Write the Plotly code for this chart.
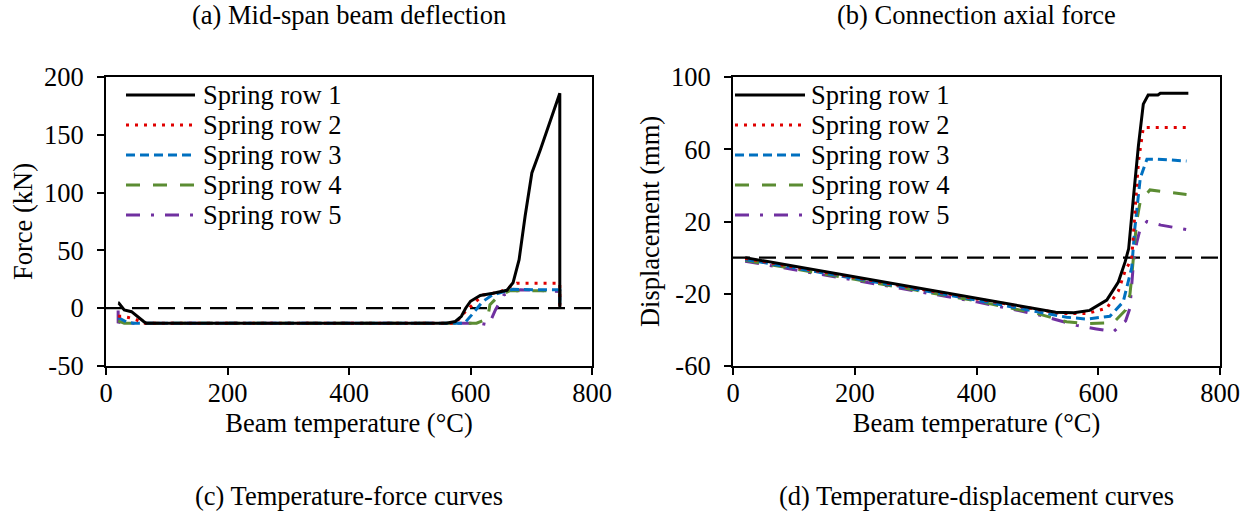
import plotly.graph_objects as go

W, H = 1254, 522

# ---------------- data: (c) temperature-force curves ----------------
force_T1 = [20, 21, 30, 42, 62, 66, 560, 575, 585, 592, 600, 616, 637, 660, 670, 680, 690, 701, 715, 747, 747]
force_F1 = [4.5, 4.5, -1.5, -3, -11.5, -13, -13, -11.5, -7, 0, 6, 11, 13, 15.5, 22, 42, 80, 117, 137, 186, 0]

force_T2 = [20, 26, 37, 50, 60, 575, 594, 610, 621, 648, 676, 747, 747]
force_F2 = [-7, -7, -8, -10, -13, -13, -1.5, 6, 11.5, 14, 21.5, 21.5, 0]

force_T3 = [20, 34, 45, 590, 602, 620, 636, 670, 703, 747, 747]
force_F3 = [-8, -12, -13, -13, -5.8, 5.7, 11.5, 16.4, 16, 16, -1]

force_T4 = [20, 30, 610, 628, 632, 645, 664, 747, 747]
force_F4 = [-11, -13, -13, -9, 3, 10, 15, 15, 0]

force_T5 = [20, 20, 30, 615, 630, 641, 655, 682, 747, 747]
force_F5 = [-2, -12, -13, -13, -14.5, -1.5, 11.5, 16, 14.5, 0]

# ---------------- data: (d) temperature-displacement curves ----------------
disp_T1 = [20, 100, 200, 300, 400, 500, 530, 560, 586, 614, 633, 644, 650, 658, 666, 674, 682, 698, 702, 748]
disp_D1 = [0, -4.8, -10.8, -16.8, -22.8, -28.8, -30.2, -30.5, -29.2, -23.5, -13.5, -2.5, 5, 34, 62, 85, 90, 90, 91, 91]

disp_T2 = [20, 100, 200, 300, 400, 500, 540, 581, 614, 633, 644, 655, 660, 666, 674, 690, 745]
disp_D2 = [-0.5, -5, -11, -17, -23, -29, -31, -31, -28, -18.5, -7.5, -0.5, 25, 53, 72, 72, 72]

disp_T3 = [20, 100, 200, 300, 400, 500, 548, 581, 619, 641, 652, 655, 660, 669, 680, 697, 745]
disp_D3 = [-1, -5.5, -11.5, -17.5, -23.5, -30, -33, -34, -32.5, -24.5, -9.5, -5.5, 16, 44, 54.5, 54.5, 53.5]

disp_T4 = [20, 100, 200, 300, 400, 500, 548, 581, 625, 645, 652, 655, 663, 669, 685, 745]
disp_D4 = [-1.5, -6, -12, -18, -24, -31, -35.5, -36.5, -36, -29, -20.5, -10.5, 20, 31, 37.5, 35]

disp_T5 = [20, 100, 200, 300, 400, 500, 564, 597, 625, 645, 652, 658, 663, 669, 680, 703, 745]
disp_D5 = [-2, -6.5, -12.5, -18.5, -24.5, -31.5, -37.5, -39.5, -41, -35, -28, -2, 8, 16, 20, 18, 15.5]

series_names = ["Spring row 1", "Spring row 2", "Spring row 3", "Spring row 4", "Spring row 5"]
series_colors = ["#000000", "#e00000", "#0070c0", "#5b8c32", "#7030a0"]
series_dashes = ["solid", "3px,6px", "9px,5px", "14px,13px", "14px,11px,3px,11px"]
series_widths = [3, 3, 3, 3, 3]

force_T = [force_T1, force_T2, force_T3, force_T4, force_T5]
force_F = [force_F1, force_F2, force_F3, force_F4, force_F5]
disp_T = [disp_T1, disp_T2, disp_T3, disp_T4, disp_T5]
disp_D = [disp_D1, disp_D2, disp_D3, disp_D4, disp_D5]

x_ticks = [0, 200, 400, 600, 800]
x_ticktext = ["0", "200", "400", "600", "800"]
force_ticks = [-50, 0, 50, 100, 150, 200]
force_ticktext = ["-50", "0", "50", "100", "150", "200"]
disp_ticks = [-60, -20, 20, 60, 100]
disp_ticktext = ["-60", "-20", "20", "60", "100"]

titles_top = ["(a) Mid-span beam deflection", "(b) Connection axial force"]
titles_bottom = ["(c) Temperature-force curves", "(d) Temperature-displacement curves"]

FONT = "Liberation Serif, Times New Roman, serif"
FS = 26.5

fig = go.Figure()

# traces drawn in reverse order so row 1 sits on top
for i in reversed(range(5)):
    fig.add_trace(go.Scatter(x=force_T[i], y=force_F[i], mode="lines", name=series_names[i],
                             line=dict(color=series_colors[i], dash=series_dashes[i], width=series_widths[i]),
                             xaxis="x", yaxis="y", showlegend=False))
    fig.add_trace(go.Scatter(x=disp_T[i], y=disp_D[i], mode="lines", name=series_names[i],
                             line=dict(color=series_colors[i], dash=series_dashes[i], width=series_widths[i]),
                             xaxis="x2", yaxis="y2", showlegend=False))

def px_x(p):
    return p / W

def px_y(p):
    return 1 - p / H

ydom = [px_y(366), px_y(77)]
axis_common = dict(showline=True, linecolor="black", linewidth=2, mirror=True, ticks="outside",
                   ticklen=7, tickwidth=2, tickcolor="black", showgrid=False, zeroline=False,
                   automargin=False,
                   tickfont=dict(family=FONT, size=FS, color="black"))
title_font = dict(family=FONT, size=FS, color="black")

fig.update_layout(
    width=W, height=H,
    margin=dict(l=0, r=0, t=0, b=0, autoexpand=False),
    paper_bgcolor="white", plot_bgcolor="white",
    xaxis=dict(domain=[px_x(106), px_x(592)], range=[0, 800], tickvals=x_ticks, ticktext=x_ticktext, anchor="y",
               ticklabelstandoff=-5,
               title=dict(text="Beam temperature (°C)", font=title_font, standoff=0), **axis_common),
    yaxis=dict(domain=ydom, range=[-50, 200], tickvals=force_ticks, ticktext=force_ticktext, anchor="x",
               ticklabelstandoff=8,
               title=dict(text="Force (kN)", font=title_font, standoff=4), **axis_common),
    xaxis2=dict(domain=[px_x(733), px_x(1220)], range=[0, 800], tickvals=x_ticks, ticktext=x_ticktext, anchor="y2",
                ticklabelstandoff=-5,
                title=dict(text="Beam temperature (°C)", font=title_font, standoff=0), **axis_common),
    yaxis2=dict(domain=ydom, range=[-60, 100], tickvals=disp_ticks, ticktext=disp_ticktext, anchor="x2",
                ticklabelstandoff=8,
                title=dict(text="Displacement (mm)", font=title_font, standoff=4), **axis_common),
    showlegend=False,
)

# zero reference lines
for xr, yr in [("x domain", "y"), ("x2 domain", "y2")]:
    fig.add_shape(type="line", xref=xr, yref=yr, x0=0, x1=1, y0=0, y1=0,
                  line=dict(color="black", width=2.2, dash="17px,9px"), layer="below")

# custom legends (line samples + labels)
legend_rows = [95, 125, 155, 185, 215]
for (lx0, lx1, tx) in [(126, 195, 201), (735, 805, 809)]:
    for i in range(5):
        yy = px_y(legend_rows[i])
        fig.add_shape(type="line", xref="paper", yref="paper", x0=px_x(lx0), x1=px_x(lx1), y0=yy, y1=yy,
                      line=dict(color=series_colors[i], dash=series_dashes[i], width=series_widths[i]))
        fig.add_annotation(x=px_x(tx), y=yy, xref="paper", yref="paper", text=series_names[i],
                           showarrow=False, xanchor="left", yanchor="middle",
                           font=dict(family=FONT, size=FS, color="black"))

# panel captions
centers = [349, 976]
for c, t in zip(centers, titles_top):
    fig.add_annotation(x=px_x(c), y=px_y(15), xref="paper", yref="paper", text=t, showarrow=False,
                       xanchor="center", yanchor="middle", font=dict(family=FONT, size=FS, color="black"))
for c, t in zip(centers, titles_bottom):
    fig.add_annotation(x=px_x(c), y=px_y(496), xref="paper", yref="paper", text=t, showarrow=False,
                       xanchor="center", yanchor="middle", font=dict(family=FONT, size=FS, color="black"))

fig.write_html("out.html")
